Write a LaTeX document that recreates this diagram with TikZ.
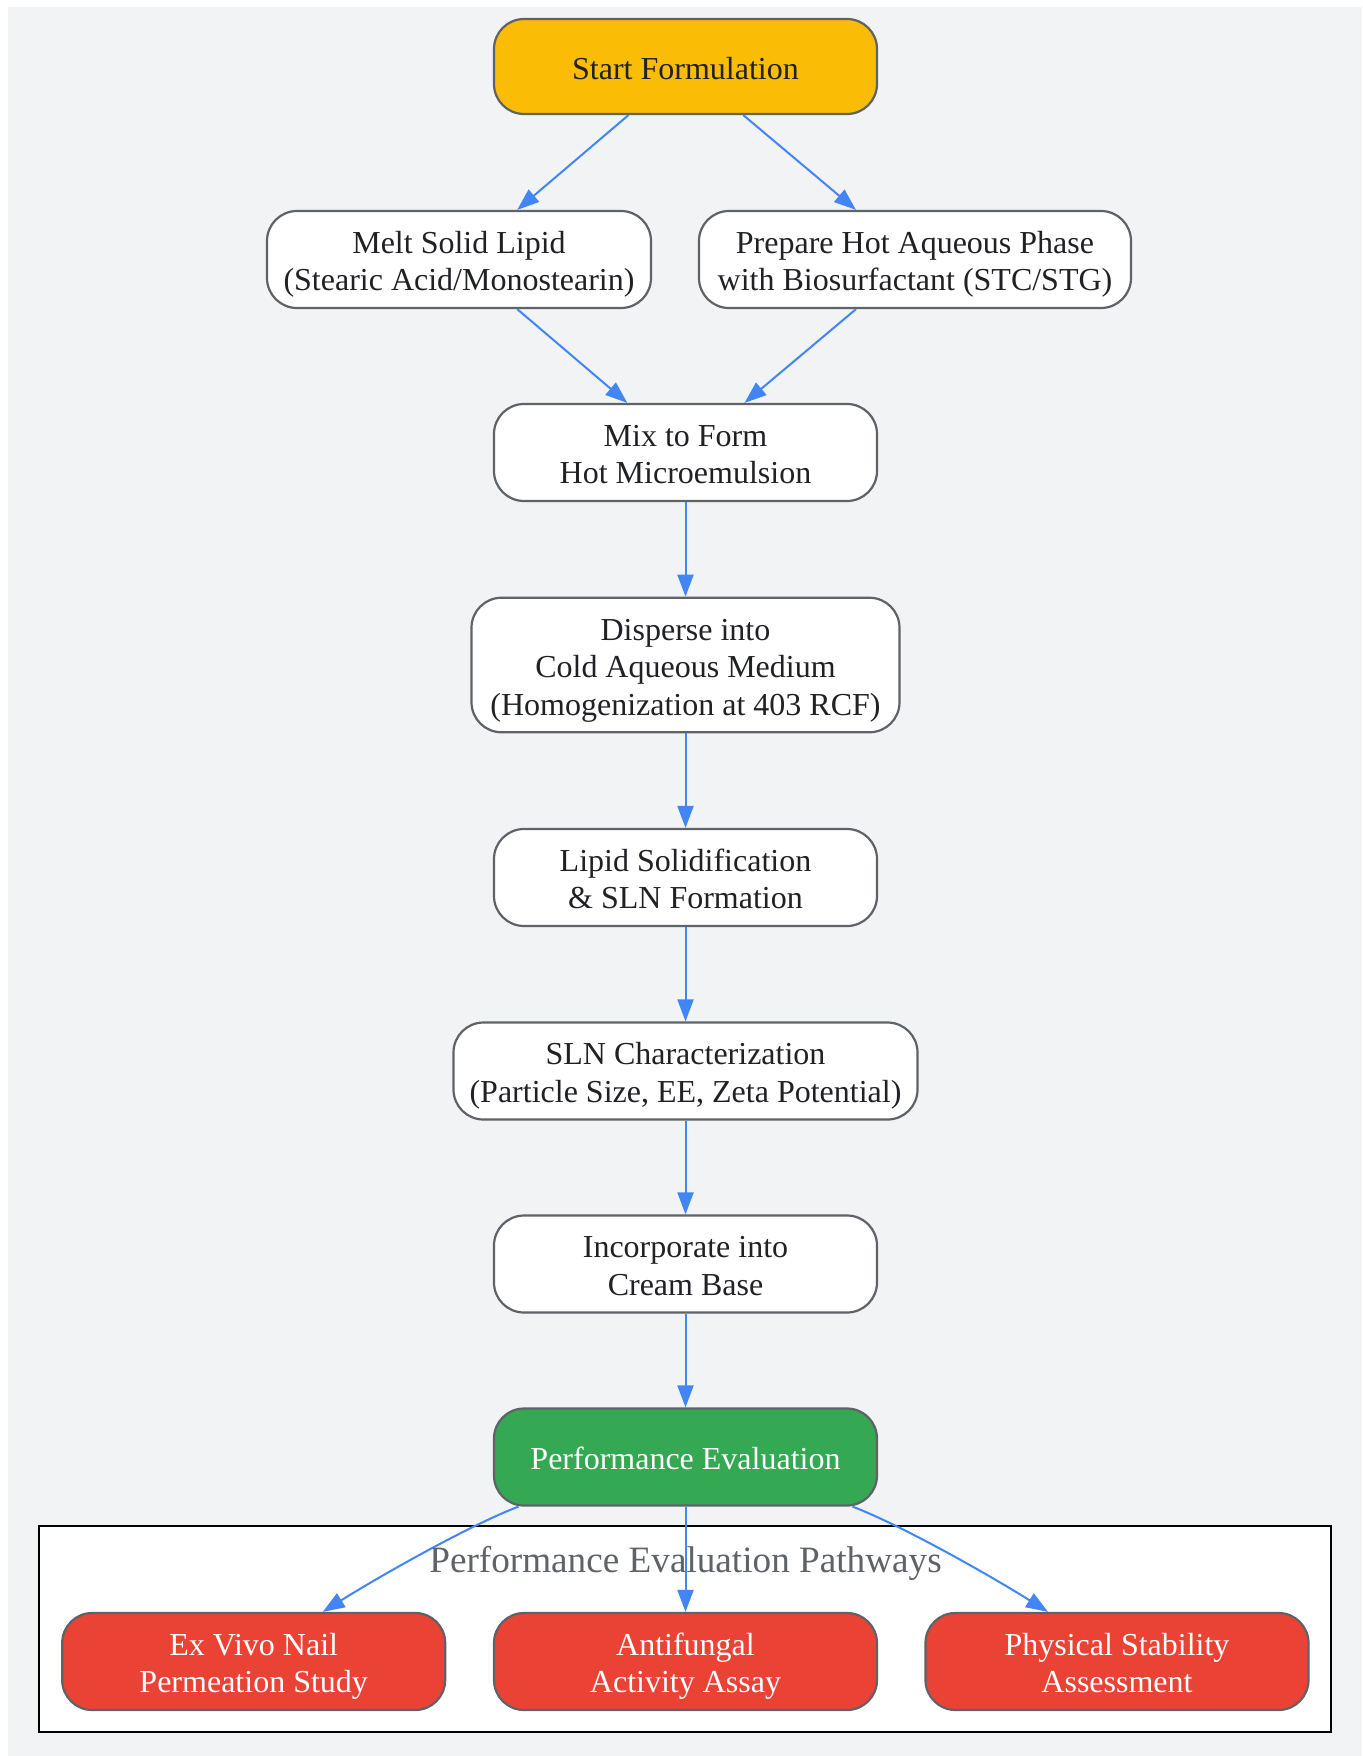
\documentclass[tikz,border=0pt]{standalone}
\usepackage{fontspec}
\setmainfont{Liberation Serif}
\usetikzlibrary{arrows.meta}
\definecolor{bg}{HTML}{F1F3F4}
\definecolor{edgeblue}{HTML}{4285F4}
\definecolor{bord}{HTML}{5F6368}
\definecolor{txt}{HTML}{202124}
\definecolor{yel}{HTML}{FBBC05}
\definecolor{grn}{HTML}{34A853}
\definecolor{rd}{HTML}{EA4335}
\newcommand{\nodetopstrut}{\rule{0pt}{18.1pt}}
\newcommand{\nodebotstrut}{\rule[-5.6pt]{0pt}{5.6pt}}
\begin{document}
\begin{tikzpicture}[x=0.5pt,y=-0.5pt,
  box/.style={draw=bord, line width=1.1pt, rounded corners=15pt, fill=white, text=txt, align=center, inner sep=2pt,
    font=\fontsize{16}{18.75}\selectfont, minimum width=191.5pt, minimum height=48.5pt},
  arr/.style={draw=edgeblue, line width=1pt, -{Triangle[length=11pt,width=8pt]}}]
\useasboundingbox (0,0) rectangle (1362,1756);
\fill[bg] (8,7) rectangle (1362,1756);

\node[box, fill=yel, minimum height=47.5pt] (start) at (685.5,66.5) {\nodetopstrut Start Formulation\nodebotstrut};
\node[box, minimum width=192pt] (melt) at (459,259.5) {\nodetopstrut Melt Solid Lipid\\(Stearic Acid/Monostearin)\nodebotstrut};
\node[box, minimum width=216pt] (prep) at (915,259.5) {\nodetopstrut Prepare Hot Aqueous Phase\\with Biosurfactant (STC/STG)\nodebotstrut};
\node[box] (mix) at (685.5,452.5) {\nodetopstrut Mix to Form\\Hot Microemulsion\nodebotstrut};
\node[box, minimum width=214pt, minimum height=67.25pt] (disp) at (685.5,665) {\nodetopstrut Disperse into\\Cold Aqueous Medium\\(Homogenization at 403 RCF)\nodebotstrut};
\node[box] (lipid) at (685.5,877.5) {\nodetopstrut Lipid Solidification\\\& SLN Formation\nodebotstrut};
\node[box, minimum width=232pt] (sln) at (685.5,1071) {\nodetopstrut SLN Characterization\\(Particle Size, EE, Zeta Potential)\nodebotstrut};
\node[box] (inc) at (685.5,1264) {\nodetopstrut Incorporate into\\Cream Base\nodebotstrut};
\node[box, fill=grn, text=white] (perf) at (685.5,1457) {\nodetopstrut Performance Evaluation\nodebotstrut};

\draw[black, line width=1.1pt, fill=white] (39,1525.6) rectangle (1331,1731.6);
\node[text=bord, font=\fontsize{18.6}{22}\selectfont] (clab) at (685.5,1563.4) {Performance Evaluation Pathways};
\node[box, fill=rd, text=white] (exv) at (253.7,1661.5) {\nodetopstrut Ex Vivo Nail\\Permeation Study\nodebotstrut};
\node[box, fill=rd, text=white] (anti) at (685.5,1661.5) {\nodetopstrut Antifungal\\Activity Assay\nodebotstrut};
\node[box, fill=rd, text=white] (phys) at (1117,1661.5) {\nodetopstrut Physical Stability\\Assessment\nodebotstrut};

\draw[arr] (start) -- (melt);
\draw[arr] (start) -- (prep);
\draw[arr] (melt) -- (mix);
\draw[arr] (prep) -- (mix);
\draw[arr] (mix) -- (disp);
\draw[arr] (disp) -- (lipid);
\draw[arr] (lipid) -- (sln);
\draw[arr] (sln) -- (inc);
\draw[arr] (inc) -- (perf);
\draw[arr] ([xshift=-83.5pt]perf.south) .. controls (470,1525) and (380,1576) .. ([xshift=34.5pt]exv.north);
\draw[arr] (perf) -- (anti);
\draw[arr] ([xshift=83.5pt]perf.south) .. controls (901,1525) and (991,1576) .. ([xshift=-34.5pt]phys.north);
\end{tikzpicture}
\end{document}
